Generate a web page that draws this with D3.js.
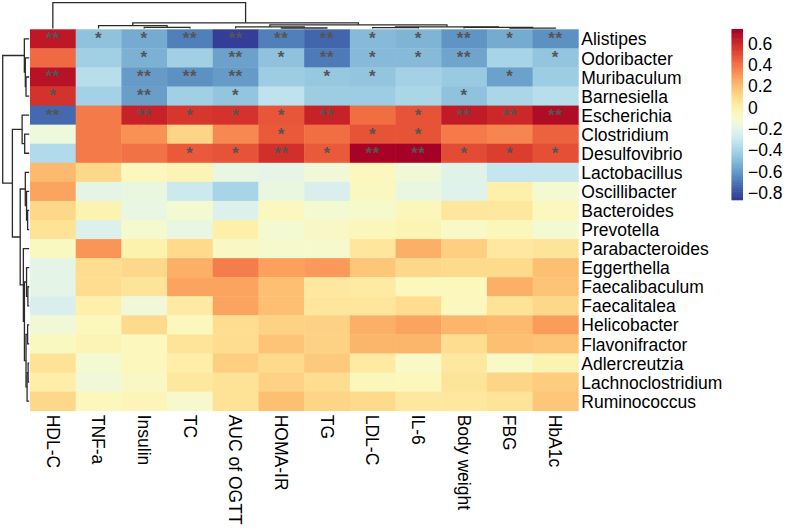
<!DOCTYPE html>
<html>
<head>
<meta charset="utf-8">
<script src="https://cdn.jsdelivr.net/npm/d3@7"></script>
<style>
  html, body { margin: 0; padding: 0; background: #fff; }
  svg { display: block; }
  text { font-family: "Liberation Sans", Arial, Helvetica, sans-serif; }
</style>
</head>
<body>
<svg id="chart" width="789" height="531"></svg>
<script>
// ---------------- data ----------------
const genera = ["Alistipes","Odoribacter","Muribaculum","Barnesiella","Escherichia","Clostridium","Desulfovibrio","Lactobacillus","Oscillibacter","Bacteroides","Prevotella","Parabacteroides","Eggerthella","Faecalibaculum","Faecalitalea","Helicobacter","Flavonifractor","Adlercreutzia","Lachnoclostridium","Ruminococcus"];
const indices = ["HDL-C","TNF-a","Insulin","TC","AUC of OGTT","HOMA-IR","TG","LDL-C","IL-6","Body weight","FBG","HbA1c"];

// correlation coefficients (rows = genera, columns = indices)
const corrValues = [
  [ 0.65,-0.47,-0.55,-0.68,-0.85,-0.68,-0.75,-0.50,-0.52,-0.62,-0.55,-0.63],
  [ 0.42,-0.42,-0.53,-0.42,-0.58,-0.47,-0.69,-0.50,-0.50,-0.57,-0.40,-0.46],
  [ 0.67,-0.35,-0.60,-0.63,-0.60,-0.43,-0.45,-0.46,-0.41,-0.44,-0.58,-0.43],
  [ 0.57,-0.41,-0.59,-0.42,-0.46,-0.33,-0.43,-0.43,-0.39,-0.47,-0.39,-0.35],
  [-0.74, 0.38, 0.62, 0.56, 0.57, 0.47, 0.62, 0.41, 0.48, 0.64, 0.60, 0.69],
  [-0.15, 0.38, 0.32, 0.12, 0.34, 0.46, 0.41, 0.48, 0.48, 0.38, 0.35, 0.44],
  [-0.37, 0.38, 0.40, 0.46, 0.48, 0.58, 0.46, 0.72, 0.73, 0.50, 0.54, 0.49],
  [ 0.21, 0.11,-0.06,-0.03,-0.18,-0.19,-0.14,-0.06,-0.14,-0.21,-0.31,-0.31],
  [ 0.27,-0.20,-0.17,-0.29,-0.40,-0.17,-0.24,-0.07,-0.17,-0.22, 0.00,-0.12],
  [ 0.11,-0.02,-0.18,-0.12,-0.23,-0.06,-0.12,-0.10,-0.05, 0.05, 0.04,-0.06],
  [ 0.07,-0.23,-0.11,-0.18, 0.00,-0.12,-0.08,-0.05,-0.03,-0.09,-0.05,-0.12],
  [-0.07, 0.31,-0.01, 0.10,-0.08,-0.10,-0.10, 0.05, 0.24, 0.14, 0.04, 0.06],
  [-0.20, 0.09, 0.11, 0.24, 0.37, 0.28, 0.30, 0.17, 0.11, 0.10, 0.10, 0.19],
  [-0.20, 0.09, 0.06, 0.27, 0.27, 0.19, 0.04, 0.03,-0.06,-0.06, 0.24, 0.18],
  [-0.24, 0.00,-0.14, 0.03, 0.27, 0.19, 0.05, 0.05, 0.09,-0.06, 0.07, 0.11],
  [-0.14,-0.06, 0.10,-0.06, 0.09, 0.13, 0.13, 0.24, 0.27, 0.22, 0.21, 0.29],
  [-0.07,-0.03,-0.06, 0.06, 0.09, 0.18, 0.13, 0.22, 0.22, 0.09, 0.19, 0.18],
  [ 0.07,-0.12,-0.06, 0.01, 0.14, 0.10, 0.16, 0.03,-0.09, 0.04,-0.09,-0.02],
  [ 0.01,-0.14,-0.08, 0.04, 0.07, 0.13, 0.09,-0.05,-0.06, 0.06, 0.12, 0.15],
  [ 0.11,-0.06,-0.04,-0.10, 0.07, 0.19, 0.12, 0.10, 0.04, 0.04, 0.06, 0.17]
];

// significance marks
const sigMarks = [
  ["**","*","*","**","**","**","**","*","*","**","*","**"],
  ["","","*","","**","*","**","*","*","**","","*"],
  ["**","","**","**","**","","*","*","","","*",""],
  ["*","","**","","*","","","","","*","",""],
  ["**","","**","*","*","*","**","","*","**","**","**"],
  ["","","","","","*","","*","*","","",""],
  ["","","","*","*","**","*","**","**","*","*","*"],
  [],[],[],[],[],[],[],[],[],[],[],[],[]
];

// hierarchical clustering merges (hclust style: negative = leaf, positive = earlier merge), height
const rowMerges = [
  [-3,-4,0.12],[-2,1,0.147],[-1,2,0.183],
  [-6,-7,0.17],[-5,4,0.267],
  [-10,-11,0.06],[-9,6,0.10],[-8,7,0.147],
  [-14,-15,0.05],[-13,9,0.10],[-16,-17,0.06],[-18,-19,0.04],[12,-20,0.08],[11,13,0.12],[10,14,0.18],
  [-12,15,0.22],[8,16,0.34],[5,17,0.634],[3,18,1.0]
];
const colMerges = [
  [-3,-4,0.045],[-2,1,0.11],[-6,-7,0.02],[-5,3,0.06],[-8,-9,0.03],
  [-11,-12,0.015],[-10,6,0.04],[5,7,0.065],[4,8,0.14],[2,9,0.22],[-1,10,1.0]
];

const legendTicks = [0.6,0.4,0.2,0,-0.2,-0.4,-0.6,-0.8];
const valueRange = [-0.87, 0.73];

// ---------------- layout ----------------
const svg = d3.select("#chart");
const hm = {x0: 30, x1: 578.3, y0: 29.3, y1: 410.7};

const x = d3.scaleBand().domain(indices).range([hm.x0, hm.x1]).padding(0);
const y = d3.scaleBand().domain(genera).range([hm.y0, hm.y1]).padding(0);
const color = d3.scaleSequential(t => d3.interpolateRdYlBu(1 - t)).domain(valueRange);

// cells
const cells = [];
genera.forEach((g, i) => indices.forEach((c, j) => cells.push({g, c, v: corrValues[i][j], s: (sigMarks[i] && sigMarks[i][j]) || ""})));

svg.append("g").selectAll("rect").data(cells).join("rect")
  .attr("x", d => x(d.c))
  .attr("y", d => y(d.g))
  .attr("width", x.bandwidth() + 0.4)
  .attr("height", y.bandwidth() + 0.4)
  .attr("fill", d => color(d.v));

// significance stars
svg.append("g").selectAll("text").data(cells.filter(d => d.s)).join("text")
  .attr("x", d => x(d.c) + x.bandwidth() / 2)
  .attr("y", d => y(d.g) + y.bandwidth() / 2 + 5.4)
  .attr("text-anchor", "middle")
  .attr("font-size", 17)
  .attr("font-weight", "bold")
  .attr("letter-spacing", 0.6)
  .attr("fill", "#555555")
  .text(d => d.s);

// row labels
svg.append("g").selectAll("text").data(genera).join("text")
  .attr("x", hm.x1 + 3)
  .attr("y", d => y(d) + y.bandwidth() / 2 + 6.6)
  .attr("font-size", 17.5)
  .attr("fill", "#000")
  .text(d => d);

// column labels (rotated)
svg.append("g").selectAll("text").data(indices).join("text")
  .attr("transform", d => `translate(${x(d) + x.bandwidth() / 2 - 6.3},${hm.y1 + 4}) rotate(90)`)
  .attr("font-size", 17.5)
  .attr("fill", "#000")
  .text(d => d);

// ---------------- dendrograms ----------------
function layoutTree(merges, leafPos) {
  const nodes = merges.map(() => null);
  const get = (id) => id < 0 ? {pos: leafPos(-id - 1), h: 0} : nodes[id - 1];
  const segs = [];
  merges.forEach((m, k) => {
    const a = get(m[0]), b = get(m[1]);
    nodes[k] = {pos: (a.pos + b.pos) / 2, h: m[2]};
    segs.push({a, b, h: m[2]});
  });
  return segs;
}

// column dendrogram
const colH = d3.scaleLinear().domain([0, 1]).range([hm.y0 - 0.8, 2.6]);
const colSegs = layoutTree(colMerges, i => x(indices[i]) + x.bandwidth() / 2);
svg.append("g").selectAll("path").data(colSegs).join("path")
  .attr("d", s => `M${s.a.pos},${colH(s.a.h)}V${colH(s.h)}H${s.b.pos}V${colH(s.b.h)}`)
  .attr("fill", "none").attr("stroke", "#2b2b2b").attr("stroke-width", 1.3);

// row dendrogram
const rowH = d3.scaleLinear().domain([0, 1]).range([hm.x0 - 0.8, 2.7]);
const rowSegs = layoutTree(rowMerges, i => y(genera[i]) + y.bandwidth() / 2);
svg.append("g").selectAll("path").data(rowSegs).join("path")
  .attr("d", s => `M${rowH(s.a.h)},${s.a.pos}H${rowH(s.h)}V${s.b.pos}H${rowH(s.b.h)}`)
  .attr("fill", "none").attr("stroke", "#2b2b2b").attr("stroke-width", 1.3);

// ---------------- legend ----------------
const lg = {x: 731.5, w: 11.5, top: 29.3, bottom: 200};
const ly = d3.scaleLinear().domain(valueRange).range([lg.bottom, lg.top]);
const steps = d3.range(100).map(i => valueRange[0] + (i + 0.5) * (valueRange[1] - valueRange[0]) / 100);
const stepH = (lg.bottom - lg.top) / 100;
svg.append("g").selectAll("rect").data(steps).join("rect")
  .attr("x", lg.x).attr("width", lg.w)
  .attr("y", d => ly(d) - stepH / 2 - 0.3)
  .attr("height", stepH + 0.6)
  .attr("fill", d => color(d));

svg.append("g").selectAll("text").data(legendTicks).join("text")
  .attr("x", 748)
  .attr("y", d => ly(d) + 6.4)
  .attr("font-size", 17.5)
  .attr("fill", "#000")
  .text(d => d === 0 ? "0" : d3.format(".1f")(d));
</script>
</body>
</html>
